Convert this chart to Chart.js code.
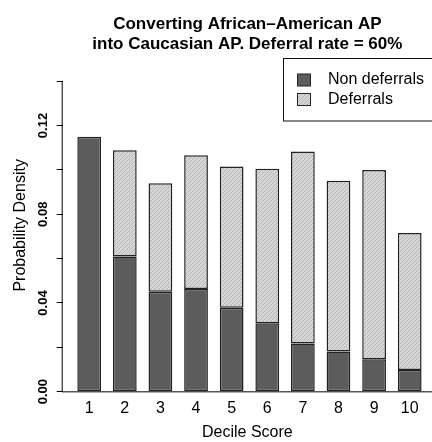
<!DOCTYPE html>
<html>
<head>
<meta charset="utf-8">
<script src="https://cdn.jsdelivr.net/npm/chart.js@4.4.1/dist/chart.umd.min.js"></script>
<style>
  html, body { margin: 0; padding: 0; background: #fff; }
  canvas { display: block; }
</style>
</head>
<body>
<canvas id="chart" width="432" height="442"></canvas>
<script>
// Decile categories and the two stacked components (probability density)
const deciles = ['1', '2', '3', '4', '5', '6', '7', '8', '9', '10'];
const nonDeferrals = [0.1150, 0.0609, 0.0451, 0.0463, 0.0379, 0.0309, 0.0217, 0.0181, 0.0146, 0.0098];
const deferrals    = [0.0000, 0.0480, 0.0489, 0.0603, 0.0636, 0.0696, 0.0866, 0.0770, 0.0853, 0.0617];

// Y axis tick marks and the subset that carries a label
const yTicks = [0, 0.02, 0.04, 0.06, 0.08, 0.10, 0.12, 0.14];
const yLabelled = [0, 0.04, 0.08, 0.12];

const titleLines = ['Converting African\u2013American AP', 'into Caucasian AP. Deferral rate = 60%'];
const seriesNames = ['Non deferrals', 'Deferrals'];

const FONT = "'Liberation Sans', Arial, Helvetica, sans-serif";
const DARK = '#5c5c5c';
const EDGE = '#222222';

// Fine pixel-aligned diagonal shading ("/") for the deferral segments
function hatchPattern(ctx) {
  const s = 4;
  const c = document.createElement('canvas');
  c.width = s; c.height = s;
  const g = c.getContext('2d');
  const img = g.createImageData(s, s);
  for (let y = 0; y < s; y++) {
    for (let x = 0; x < s; x++) {
      const k = (y * s + x) * 4;
      const v = ((x + y) % s === s - 1) ? 0xb4 : 0xd6;
      img.data[k] = v; img.data[k + 1] = v; img.data[k + 2] = v; img.data[k + 3] = 255;
    }
  }
  g.putImageData(img, 0, 0);
  return ctx.createPattern(c, 'repeat');
}

const canvas = document.getElementById('chart');
const ctx = canvas.getContext('2d');
const HATCH = hatchPattern(ctx);

const toPoints = arr => arr.map((v, i) => ({ x: i + 1, y: v }));

// Y axis line spanning the first to last tick, plus the boxed legend
const extras = {
  id: 'extras',
  afterDraw(chart) {
    const c = chart.ctx;
    const ys = chart.scales.y;
    const left = chart.chartArea.left;
    c.save();
    c.strokeStyle = '#000';
    c.lineWidth = 1;
    c.beginPath();
    c.moveTo(left - 0.5, ys.getPixelForValue(yTicks[0]));
    c.lineTo(left - 0.5, ys.getPixelForValue(yTicks[yTicks.length - 1]));
    c.stroke();

    // legend box
    const bx = 283.5, by = 58.5, bw = 170, bh = 62.5;
    c.strokeStyle = '#111';
    c.lineWidth = 1;
    c.strokeRect(bx, by, bw, bh);
    c.font = '16px ' + FONT;
    c.textBaseline = 'middle';
    c.textAlign = 'left';
    chart.data.datasets.forEach((ds, i) => {
      const cy = 80 + i * 19.5;
      c.fillStyle = ds.backgroundColor;
      c.fillRect(297.5, cy - 6, 13, 12);
      c.strokeStyle = '#222';
      c.strokeRect(297.5, cy - 6, 13, 12);
      c.fillStyle = '#000';
      c.fillText(ds.label, 328, cy);
    });
    c.restore();
  }
};

new Chart(ctx, {
  type: 'bar',
  data: {
    datasets: [
      {
        label: seriesNames[0],
        data: toPoints(nonDeferrals),
        backgroundColor: DARK,
        borderColor: EDGE,
        borderWidth: 1.5,
        borderSkipped: false,
        categoryPercentage: 1,
        barPercentage: 0.667
      },
      {
        label: seriesNames[1],
        data: toPoints(deferrals),
        backgroundColor: HATCH,
        borderColor: EDGE,
        borderWidth: 1.5,
        borderSkipped: false,
        categoryPercentage: 1,
        barPercentage: 0.667
      }
    ]
  },
  options: {
    responsive: false,
    animation: false,
    devicePixelRatio: 1,
    layout: { padding: 0 },
    plugins: {
      legend: { display: false },
      tooltip: { enabled: false },
      title: {
        display: true,
        fullSize: false,
        text: titleLines,
        color: '#000',
        font: { family: FONT, size: 17, weight: 'bold', lineHeight: '20px' },
        padding: { top: 14, bottom: 5 }
      }
    },
    scales: {
      x: {
        type: 'linear',
        stacked: true,
        offset: false,
        min: 0.256,
        max: 10.626,
        afterBuildTicks: s => { s.ticks = deciles.map((d, i) => ({ value: i + 1 })); },
        afterFit: s => { s.height = 50.3; },
        grid: { display: false, drawTicks: false, offset: false },
        border: { display: true, color: '#555', width: 1.5 },
        ticks: {
          autoSkip: false,
          maxRotation: 0,
          padding: 7.4,
          color: '#000',
          font: { family: FONT, size: 16 },
          callback: (v, i) => deciles[i]
        },
        title: {
          display: true,
          text: 'Decile Score',
          color: '#000',
          font: { family: FONT, size: 16 },
          padding: { top: 4.6, bottom: 0 }
        }
      },
      y: {
        type: 'linear',
        stacked: true,
        min: 0,
        max: 0.15,
        afterBuildTicks: s => { s.ticks = yTicks.map(v => ({ value: v })); },
        afterFit: s => { s.width = 62.7; },
        grid: { drawOnChartArea: false, drawTicks: true, tickLength: 6, tickColor: '#000', tickWidth: 1 },
        border: { display: false },
        ticks: {
          autoSkip: false,
          minRotation: 90,
          maxRotation: 90,
          crossAlign: 'center',
          padding: 0.4,
          color: '#000',
          font: { family: FONT, size: 13, weight: 'bold' },
          callback: v => yLabelled.some(t => Math.abs(t - v) < 1e-9) ? v.toFixed(2) : ''
        },
        title: {
          display: true,
          text: 'Probability Density',
          color: '#000',
          font: { family: FONT, size: 16 },
          padding: { top: 11, bottom: 0 }
        }
      }
    }
  },
  plugins: [extras]
});
</script>
</body>
</html>
